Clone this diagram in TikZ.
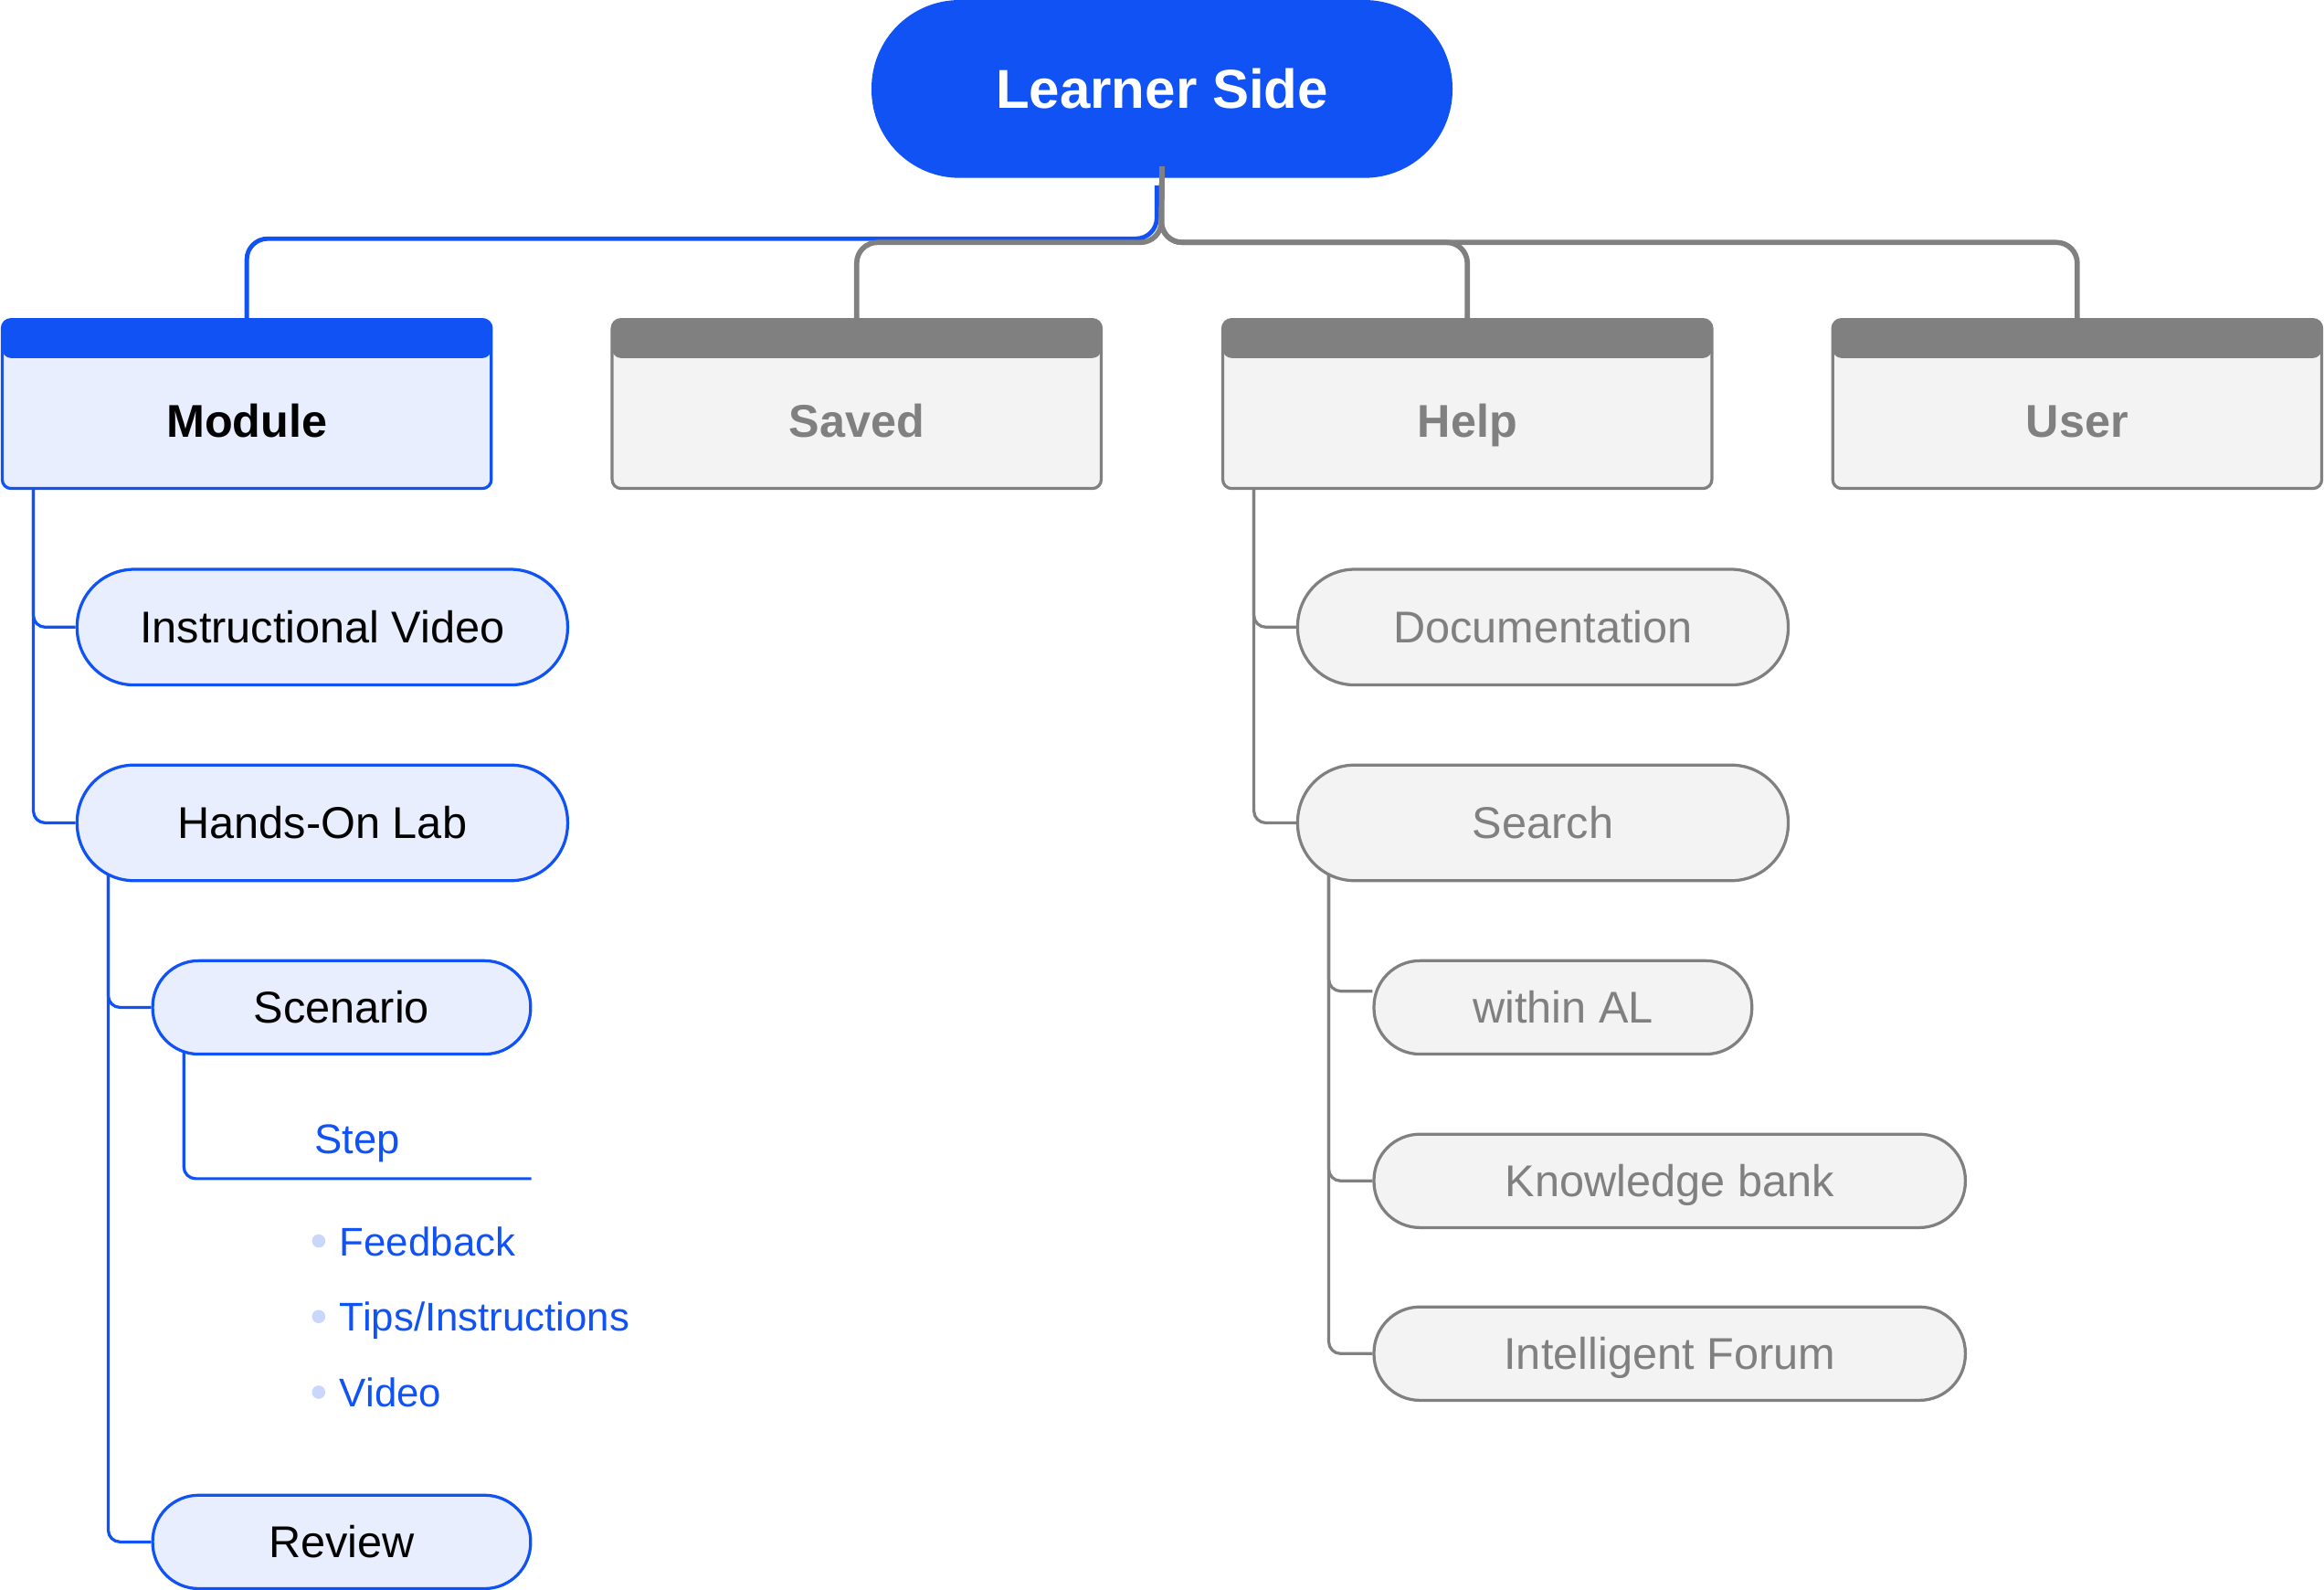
\documentclass[tikz,border=0pt]{standalone}
\usepackage{fontspec}
\setmainfont{Liberation Sans}
\usetikzlibrary{calc,backgrounds}
\definecolor{mblue}{HTML}{1152F5}
\definecolor{lblue}{HTML}{E8EEFD}
\definecolor{mgray}{HTML}{808080}
\definecolor{lgray}{HTML}{F3F3F3}
\definecolor{dotc}{HTML}{C9D7FB}
\begin{document}
\begin{tikzpicture}[x=1pt,y=-1pt,
  bigpill/.style={minimum width=331pt, minimum height=78pt, rounded corners=38.5pt, inner sep=0pt,
    font=\fontsize{30}{36}\selectfont, text height=21.5pt, text depth=0pt},
  smallpill/.style={minimum width=#1, minimum height=63pt, rounded corners=31pt, inner sep=0pt,
    font=\fontsize{30}{36}\selectfont, text height=21.5pt, text depth=0pt},
  bluec/.style={draw=mblue, fill=lblue, text=black, line width=2pt},
  grayc/.style={draw=mgray, fill=lgray, text=mgray, line width=2pt},
  catbox/.style={draw=#1, line width=2pt, rounded corners=6pt, minimum width=330pt, minimum height=114pt,
    inner sep=0pt, path picture={\fill[#1] (path picture bounding box.north west) rectangle ([yshift=-26pt]path picture bounding box.north east);}},
  cattext/.style={font=\bfseries\fontsize{31}{37}\selectfont, text height=22pt, text depth=0pt, inner sep=0pt},
  bline/.style={draw=mblue, line width=2pt, rounded corners=8pt},
  gline/.style={draw=mgray, line width=2pt, rounded corners=8pt},
  topgray/.style={draw=mgray, line width=3.5pt, rounded corners=14pt},
  subtext/.style={text=mblue, font=\fontsize{27}{32}\selectfont, inner sep=0pt, anchor=base west},
  dot/.style={circle, fill=dotc, minimum size=9pt, inner sep=0pt}
]
\useasboundingbox (0,0) rectangle (1568,1072);

% root
\node[fill=mblue, minimum width=392pt, minimum height=120pt, rounded corners=59.5pt, inner sep=0pt,
  text=white, font=\bfseries\fontsize{37}{44}\selectfont, text height=26.5pt, text depth=0pt] (ls) at (784,60) {Learner Side};

% category boxes
\node[catbox=mblue, fill=lblue] (mod) at (166.5,272.5) {};
\node[catbox=mgray, fill=lgray] (saved) at (578,272.5) {};
\node[catbox=mgray, fill=lgray] (help) at (990,272.5) {};
\node[catbox=mgray, fill=lgray] (user) at (1401.5,272.5) {};
\node[cattext, text=black] (modt) at (166.5,284) {Module};
\node[cattext, text=mgray] (savedt) at (578,284) {Saved};
\node[cattext, text=mgray] (helpt) at (990,284) {Help};
\node[cattext, text=mgray] (usert) at (1401.5,284) {User};

% top connectors
\coordinate (bstart) at (780.5,125);
\coordinate (bfork) at (780.5,161);
\coordinate (fork) at (783.5,163.5);
\draw[mblue, line width=3pt, rounded corners=14pt] (bstart) -- (bfork) -| (mod.north);
\draw[topgray] ([yshift=8pt]ls.south) -- (fork) -| (saved.north);
\draw[topgray] ([yshift=8pt]ls.south) -- (fork) -| (help.north);
\draw[topgray] ([yshift=8pt]ls.south) -- (fork) -| (user.north);

% module subtree
\node[bigpill, bluec] (iv) at (217.5,423) {Instructional Video};
\node[bigpill, bluec] (hol) at (217.5,555) {Hands-On Lab};
\node[smallpill=255pt, bluec] (scn) at (230.5,679.5) {Scenario};
\node[smallpill=255pt, bluec] (rev) at (230.5,1040) {Review};
\coordinate (stepend) at (358.5,795);
\node[subtext, font=\fontsize{28}{33}\selectfont] (step) at (212,778) {Step};
\node[dot] (d1) at (215,837) {};
\node[dot] (d2) at (215,888) {};
\node[dot] (d3) at (215,939) {};
\node[subtext] (fb) at (229,847) {Feedback};
\node[subtext] (tips) at (229,898) {Tips/Instructions};
\node[subtext] (vid) at (229,949) {Video};

% help subtree
\node[bigpill, grayc] (doc) at (1041,423) {Documentation};
\node[bigpill, grayc] (srch) at (1041,555) {Search};
\node[smallpill=255pt, grayc] (wal) at (1054.5,679.5) {within AL};
\node[smallpill=399pt, grayc] (kb) at (1126.5,796.5) {Knowledge bank};
\node[smallpill=399pt, grayc] (ifr) at (1126.5,913) {Intelligent Forum};

\begin{pgfonlayer}{background}
\draw[bline] ([xshift=22pt]mod.south west) |- (iv.west);
\draw[bline] ([xshift=22pt]mod.south west) |- (hol.west);
\draw[bline] ([xshift=22pt,yshift=10pt]hol.south west) |- (scn.west);
\draw[bline] ([xshift=22pt,yshift=10pt]hol.south west) |- (rev.west);
\draw[bline] ([xshift=22pt,yshift=10pt]scn.south west) |- (stepend);
\draw[gline] ([xshift=22pt]help.south west) |- (doc.west);
\draw[gline] ([xshift=22pt]help.south west) |- (srch.west);
\draw[gline] ([xshift=22pt,yshift=10pt]srch.south west) |- ([yshift=11pt]wal.west);
\draw[gline] ([xshift=22pt,yshift=10pt]srch.south west) |- (kb.west);
\draw[gline] ([xshift=22pt,yshift=10pt]srch.south west) |- (ifr.west);
\end{pgfonlayer}
\end{tikzpicture}
\end{document}
